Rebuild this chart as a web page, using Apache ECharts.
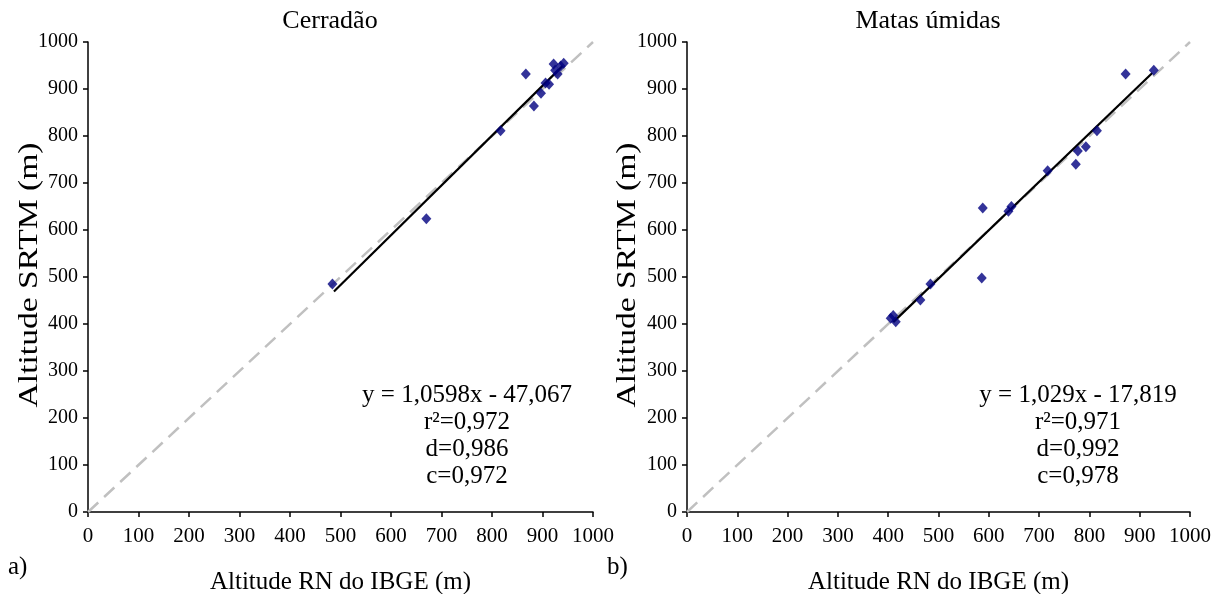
<!DOCTYPE html>
<html>
<head>
<meta charset="utf-8">
<script src="https://cdn.jsdelivr.net/npm/echarts@6/dist/echarts.min.js"></script>
<style>
  html, body { margin: 0; padding: 0; background: #fff; }
  #chart { width: 1226px; height: 594px; }
</style>
</head>
<body>
<div id="chart"></div>
<script>
// Panel titles and axis names
const panelTitles = ['Cerradão', 'Matas úmidas'];
const panelTags = ['a)', 'b)'];
const xAxisName = 'Altitude RN do IBGE (m)';
const yAxisName = 'Altitude SRTM (m)';

// Cerradão: [altitude RN IBGE, altitude SRTM]
const cerradaoPoints = [
  [484, 485], [670, 624], [817, 811], [883, 864], [867, 932],
  [897, 891], [906, 913], [913, 910], [922, 953], [930, 932],
  [936, 949], [942, 955], [925, 940]
];
// Matas úmidas: [altitude RN IBGE, altitude SRTM]
const matasPoints = [
  [405, 412], [410, 418], [415, 405], [464, 451], [484, 485],
  [586, 498], [588, 647], [639, 640], [645, 650], [717, 726],
  [773, 740], [777, 768], [793, 777], [815, 811], [872, 932],
  [928, 940]
];

// Linear fits: slope, intercept, x-range
const cerradaoFit = { a: 1.0598, b: -47.067, x0: 487, x1: 940 };
const matasFit = { a: 1.029, b: -17.819, x0: 410, x1: 925 };

// Fit statistics shown on each panel
const cerradaoStats = ['y = 1,0598x - 47,067', 'r²=0,972', 'd=0,986', 'c=0,972'];
const matasStats = ['y = 1,029x - 17,819', 'r²=0,971', 'd=0,992', 'c=0,978'];

// Axis settings
const axisMin = 0, axisMax = 1000, axisStep = 100;
const identityLine = [[0, 0], [1000, 1000]];

function fitLine(f) {
  return [[f.x0, f.a * f.x0 + f.b], [f.x1, f.a * f.x1 + f.b]];
}

const FONT = '"Liberation Serif", "Times New Roman", serif';
const plainNumber = v => String(v);

function makeXAxis(idx) {
  return {
    gridIndex: idx, type: 'value', min: axisMin, max: axisMax, interval: axisStep,
    name: xAxisName, nameLocation: 'middle', nameGap: 58,
    nameTextStyle: { fontFamily: FONT, fontSize: 25, color: '#000' },
    axisLine: { show: true, lineStyle: { color: '#000', width: 1.5 } },
    axisTick: { show: true, length: 5, lineStyle: { color: '#000', width: 1.5 } },
    axisLabel: { fontFamily: FONT, fontSize: 21, color: '#000', margin: 14, formatter: plainNumber },
    splitLine: { show: false }
  };
}
function makeYAxis(idx) {
  return {
    gridIndex: idx, type: 'value', min: axisMin, max: axisMax, interval: axisStep,
    axisLine: { show: true, lineStyle: { color: '#000', width: 1.5 } },
    axisTick: { show: true, length: 5, lineStyle: { color: '#000', width: 1.5 } },
    axisLabel: { fontFamily: FONT, fontSize: 20, color: '#000', margin: 10, formatter: plainNumber },
    splitLine: { show: false }
  };
}

function panelSeries(idx, pts, fit) {
  return [
    {
      type: 'line', xAxisIndex: idx, yAxisIndex: idx, data: identityLine,
      symbol: 'none', silent: true, z: 1,
      lineStyle: { color: '#c0c0c0', width: 2.5, type: [14, 8] }
    },
    {
      type: 'line', xAxisIndex: idx, yAxisIndex: idx, data: fitLine(fit),
      symbol: 'none', silent: true, z: 2,
      lineStyle: { color: '#000', width: 2.2 }
    },
    {
      type: 'scatter', xAxisIndex: idx, yAxisIndex: idx, data: pts,
      symbol: 'diamond', symbolSize: [10, 11], z: 3,
      itemStyle: { color: '#00007f' }
    }
  ];
}

function statsText(lines, cx, cy) {
  return lines.map((t, i) => ({
    type: 'text', x: cx, y: cy + i * 27,
    style: { text: t, font: '25px ' + FONT, fill: '#000', align: 'center', verticalAlign: 'middle' }
  }));
}

// Vertical axis title, drawn tall as in the printed figure
function yTitle(cx, cy) {
  return {
    type: 'text', x: cx, y: cy, rotation: Math.PI / 2, scaleX: 1.2,
    style: { text: yAxisName, font: '28px ' + FONT, fill: '#000', align: 'center', verticalAlign: 'middle' }
  };
}

const chart = echarts.init(document.getElementById('chart'), null, { renderer: 'canvas' });
chart.setOption({
  animation: false,
  backgroundColor: '#fff',
  title: [
    { text: panelTitles[0], left: 325, top: 3, textAlign: 'center',
      textStyle: { fontFamily: FONT, fontSize: 26, fontWeight: 'normal', color: '#000' } },
    { text: panelTitles[1], left: 923, top: 3, textAlign: 'center',
      textStyle: { fontFamily: FONT, fontSize: 26, fontWeight: 'normal', color: '#000' } }
  ],
  grid: [
    { left: 88, top: 42, width: 505, height: 470, outerBoundsMode: 'none', containLabel: false },
    { left: 687, top: 42, width: 503, height: 470, outerBoundsMode: 'none', containLabel: false }
  ],
  xAxis: [makeXAxis(0), makeXAxis(1)],
  yAxis: [makeYAxis(0), makeYAxis(1)],
  series: [
    ...panelSeries(0, cerradaoPoints, cerradaoFit),
    ...panelSeries(1, matasPoints, matasFit)
  ],
  graphic: [
    yTitle(30, 275),
    yTitle(628, 275),
    ...statsText(cerradaoStats, 467, 395),
    ...statsText(matasStats, 1078, 395),
    { type: 'text', x: 8, y: 567, style: { text: panelTags[0], font: '25px ' + FONT, fill: '#000', verticalAlign: 'middle' } },
    { type: 'text', x: 607, y: 567, style: { text: panelTags[1], font: '25px ' + FONT, fill: '#000', verticalAlign: 'middle' } }
  ]
});
</script>
</body>
</html>
